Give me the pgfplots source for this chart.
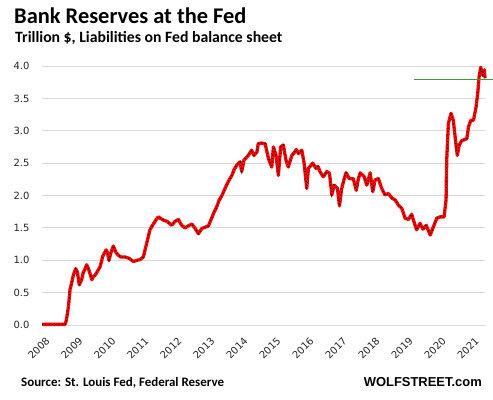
\documentclass[border=0pt]{standalone}
\usepackage{fontspec}
\setmainfont{Carlito}
\newfontfamily\tickfont{DejaVu Sans}
\newfontfamily\arialfont{Liberation Sans}
\usepackage{pgfplots}
\pgfplotsset{compat=1.18}
\usepackage{pgfplotstable}
\definecolor{gridgray}{RGB}{217,217,217}
\definecolor{lgreen}{RGB}{60,155,60}
\pgfplotstableread{
t v
2008.00 0.01
2008.30 0.01
2008.70 0.01
2008.74 0.08
2008.80 0.28
2008.85 0.55
2008.89 0.63
2008.95 0.77
2009.02 0.87
2009.07 0.82
2009.13 0.62
2009.20 0.70
2009.25 0.81
2009.30 0.86
2009.35 0.93
2009.40 0.88
2009.45 0.80
2009.51 0.70
2009.56 0.75
2009.61 0.77
2009.67 0.82
2009.76 0.90
2009.84 1.06
2009.94 1.16
2009.98 1.12
2010.03 1.00
2010.09 1.12
2010.16 1.22
2010.24 1.12
2010.31 1.08
2010.39 1.05
2010.52 1.05
2010.64 1.03
2010.77 0.98
2010.88 1.00
2010.97 1.01
2011.07 1.05
2011.17 1.26
2011.27 1.47
2011.36 1.55
2011.45 1.62
2011.52 1.67
2011.61 1.64
2011.68 1.62
2011.79 1.60
2011.93 1.54
2012.03 1.60
2012.13 1.63
2012.23 1.54
2012.33 1.50
2012.43 1.53
2012.54 1.56
2012.64 1.49
2012.74 1.41
2012.84 1.49
2012.94 1.51
2013.04 1.53
2013.14 1.65
2013.21 1.74
2013.29 1.82
2013.36 1.92
2013.45 2.00
2013.52 2.08
2013.60 2.17
2013.67 2.24
2013.75 2.31
2013.82 2.40
2013.90 2.47
2014.00 2.52
2014.05 2.37
2014.12 2.55
2014.18 2.58
2014.25 2.62
2014.30 2.66
2014.35 2.70
2014.42 2.62
2014.51 2.67
2014.55 2.80
2014.64 2.81
2014.76 2.80
2014.86 2.57
2014.96 2.44
2015.01 2.75
2015.09 2.62
2015.16 2.31
2015.23 2.75
2015.31 2.78
2015.39 2.55
2015.46 2.44
2015.57 2.62
2015.64 2.66
2015.70 2.71
2015.77 2.65
2015.87 2.70
2015.94 2.50
2016.02 2.11
2016.07 2.42
2016.14 2.46
2016.20 2.50
2016.30 2.42
2016.36 2.45
2016.42 2.37
2016.52 2.29
2016.63 2.37
2016.71 2.34
2016.78 2.01
2016.85 2.16
2016.95 2.11
2017.01 1.84
2017.08 2.11
2017.15 2.25
2017.21 2.35
2017.31 2.26
2017.43 2.26
2017.52 2.08
2017.58 2.25
2017.64 2.35
2017.76 2.29
2017.84 2.16
2017.94 2.35
2018.02 2.06
2018.09 2.24
2018.19 2.26
2018.29 2.11
2018.39 2.01
2018.49 2.03
2018.60 1.96
2018.70 1.93
2018.80 1.85
2018.90 1.80
2019.00 1.65
2019.10 1.63
2019.20 1.71
2019.25 1.62
2019.35 1.47
2019.45 1.57
2019.54 1.48
2019.64 1.54
2019.76 1.39
2019.86 1.52
2019.96 1.65
2020.06 1.67
2020.18 1.67
2020.24 1.93
2020.26 2.55
2020.31 3.11
2020.39 3.27
2020.46 3.16
2020.52 2.88
2020.58 2.62
2020.64 2.78
2020.72 2.85
2020.79 2.86
2020.87 2.88
2020.92 3.06
2020.99 3.16
2021.07 3.16
2021.15 3.37
2021.20 3.58
2021.24 3.83
2021.29 3.98
2021.35 3.86
2021.40 3.94
2021.42 3.81
}\reserves
\begin{document}
\begin{tikzpicture}[x=1bp,y=1bp]
\useasboundingbox (0,0) rectangle (493,399);
\begin{axis}[
  at={(42bp,74bp)}, anchor=south west,
  scale only axis, width=443bp, height=259bp,
  xmin=2008, xmax=2021.42, ymin=0, ymax=4,
  clip=false,
  axis line style={draw=none},
  major tick length=0pt,
  ymajorgrids, grid style={gridgray, line width=0.9bp},
  ytick={0,0.5,...,4},
  yticklabel style={/pgf/number format/fixed, /pgf/number format/fixed zerofill, /pgf/number format/precision=1, xshift=-9bp},
  /pgf/number format/assume math mode=true,
  ticklabel style={font=\tickfont\fontsize{10}{12}\selectfont, text=black!85},
  xtick={2008,2009,2010,2011,2012,2013,2014,2015,2016,2017,2018,2019,2020,2021},
  xticklabels={2008,2009,2010,2011,2012,2013,2014,2015,2016,2017,2018,2019,2020,2021},
  xticklabel style={rotate=45, anchor=east, inner sep=0pt, xshift=-5.7bp, yshift=-14.1bp},
]
\addplot[red, line width=3.3bp, line join=round, no markers] table[x=t,y=v]{\reserves};
\addplot[black, line width=1.1bp, dash pattern=on 0.9bp off 2.4bp, no markers] table[x=t,y=v]{\reserves};
\addplot[lgreen, line width=0.9bp, no markers] coordinates {(2019.27,3.8) (2021.67,3.8)};
\end{axis}
\node[anchor=base west, inner sep=0pt, font=\bfseries\fontsize{22.5}{26}\selectfont] at (14,376) {Bank Reserves at the Fed};
\node[anchor=base west, inner sep=0pt, font=\bfseries\fontsize{15.8}{18}\selectfont] at (15,357) {Trillion \$, Liabilities on Fed balance sheet};
\node[anchor=base west, inner sep=0pt, font=\bfseries\fontsize{13}{15}\selectfont] at (21,13) {Source: St. Louis Fed, Federal Reserve};
\node[anchor=base east, inner sep=0pt, font=\arialfont\bfseries\fontsize{13}{15}\selectfont] at (482,13) {WOLFSTREET.com};
\end{tikzpicture}
\end{document}
